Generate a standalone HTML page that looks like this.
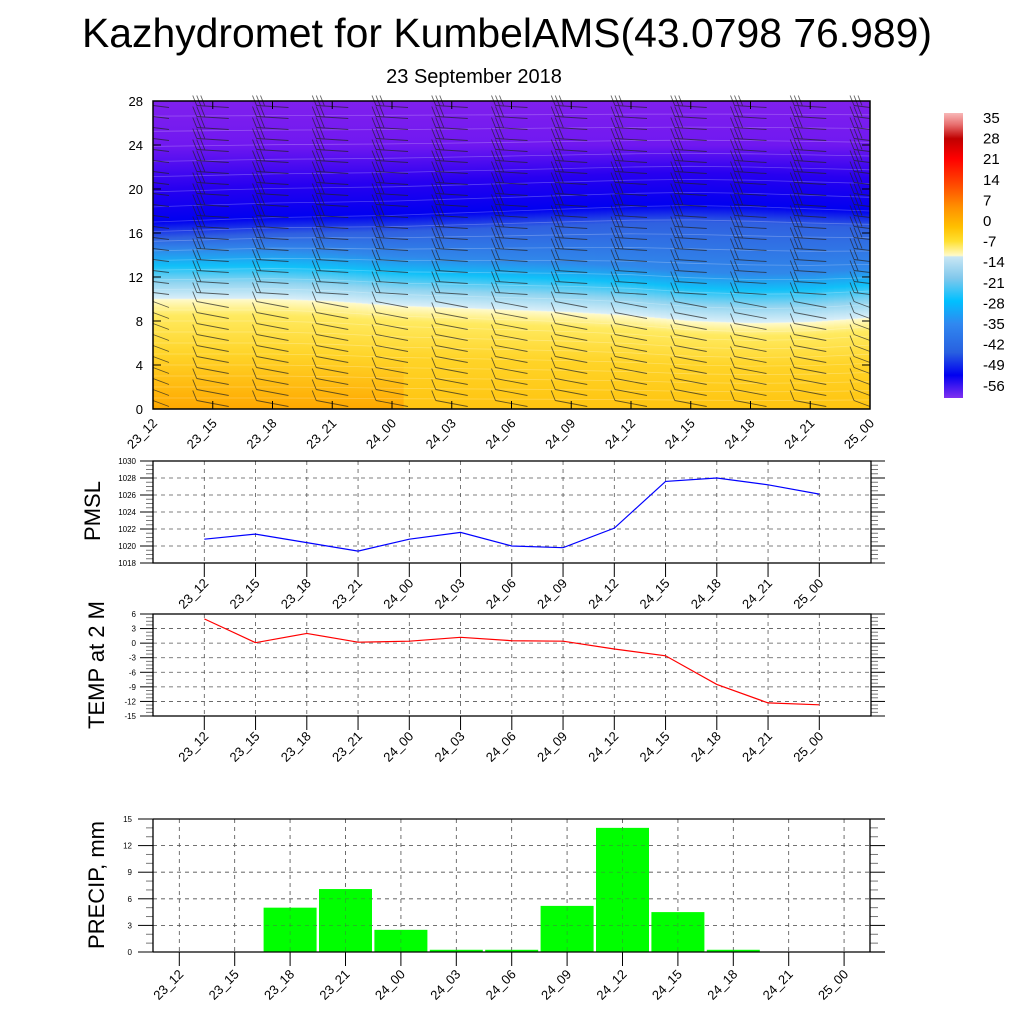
<!DOCTYPE html>
<html><head><meta charset="utf-8"><style>
html,body{margin:0;padding:0;background:#fff;}
svg{display:block;font-family:"Liberation Sans",sans-serif;}
</style></head><body>
<svg id="c" width="1024" height="1024" viewBox="0 0 1024 1024">
<text x="507" y="47" font-size="41" text-anchor="middle" textLength="850" lengthAdjust="spacingAndGlyphs">Kazhydromet for KumbelAMS(43.0798 76.989)</text>
<text x="474" y="83" font-size="20" text-anchor="middle">23 September 2018</text>
<text transform="translate(100,511) rotate(-90)" font-size="22" text-anchor="middle">PMSL</text>
<text transform="translate(104,665) rotate(-90)" font-size="22" text-anchor="middle">TEMP at 2 M</text>
<text transform="translate(104,885) rotate(-90)" font-size="22" text-anchor="middle">PRECIP, mm</text>
<g id="g"></g>
</svg>
<script>
const times=["23_12","23_15","23_18","23_21","24_00","24_03","24_06","24_09","24_12","24_15","24_18","24_21","25_00"];
const pmsl=[1020.8,1021.4,1020.4,1019.4,1020.8,1021.6,1020.0,1019.8,1022.1,1027.6,1028.0,1027.2,1026.1];
const temp2m=[5,0.1,2,0.2,0.4,1.2,0.5,0.4,-1.2,-2.6,-8.5,-12.3,-12.7];
const precip=[0,0.05,5,7.1,2.5,0.25,0.25,5.2,14,4.5,0.25,0.05,0];
const freezeLevel=[10,10,10,9.8,9.4,9.2,9.0,8.8,8.5,8.0,7.8,7.9,8.3];
const jetCore=[17,17.2,17.4,17.5,17.6,17.8,18,18.2,18.4,18.5,18.4,18.2,18];
const cbLabels=["35","28","21","14","7","0","-7","-14","-21","-28","-35","-42","-49","-56"];
const pmslTicks=[1018,1020,1022,1024,1026,1028,1030];
const tempTicks=[-15,-12,-9,-6,-3,0,3,6];
const precipTicks=[0,3,6,9,12,15];
const zTicks=[0,4,8,12,16,20,24,28];

const NS="http://www.w3.org/2000/svg";
const G=document.getElementById('g');
function el(t,a,p){const e=document.createElementNS(NS,t);for(const k in a)e.setAttribute(k,a[k]);(p||G).appendChild(e);return e;}
function txt(x,y,s,fs,anchor,rot,p){const e=el('text',{x:x,y:y,'font-size':fs,'text-anchor':anchor||'middle'},p);if(rot)e.setAttribute('transform',`rotate(${rot},${x},${y})`);e.textContent=s;return e;}

// ---------- contour panel ----------
const cx0=153,cx1=870,cy0=101,cy1=409;
const cX=i=>cx0+i*(cx1-cx0)/(times.length-1);
const cY=z=>cy1-z*(cy1-cy0)/28;
const defs=el('defs',{});
function interp(arr,f){const i=Math.min(arr.length-2,Math.floor(f));const t=f-i;return arr[i]*(1-t)+arr[i+1]*t;}
const nS=120;const sw=(cx1-cx0)/nS;
const contour=el('g',{});


for(let s=0;s<nS;s++){
  const f=(s+0.5)/nS*(times.length-1);
  const b=interp(freezeLevel,f), j=interp(jetCore,f);
  const id='sg'+s;
  const lg=el('linearGradient',{id:id,x1:0,y1:0,x2:0,y2:1,gradientUnits:'userSpaceOnUse'},defs);
  lg.setAttribute('y1',cy1);lg.setAttribute('y2',cy0);
  const hot=Math.max(0,1-f/6);
  const stops=[[0,hot>0.3?'#ffa800':'#ffc410'],[b*0.5,'#ffd428'],[b*0.85,'#ffea60'],[b-0.05,'#fffac8'],[b+0.05,'#d8eef8'],[b+1.5,'#90d4f0'],[b+3,'#10c0f8'],[b+4.5,'#3088ea'],[j-1.5,'#3060e0'],[j,'#0000f0'],[j+3,'#2800f0'],[24,'#7018f0'],[28,'#8020ee']];
  stops.forEach(([z,c])=>el('stop',{offset:Math.max(0,Math.min(1,z/28)),'stop-color':c},lg));
  el('rect',{x:cx0+s*sw-0.3,y:cy0,width:sw+0.6,height:cy1-cy0,fill:`url(#${id})`},contour);
}
for(let k=1;k<26;k++){
  let d='';
  for(let i=0;i<times.length;i++){
    const b=freezeLevel[i];
    const z=k<10?b*k/10:(k<18?b+(jetCore[i]-b)*(k-10)/8:jetCore[i]+(28-jetCore[i])*(k-18)/8);
    d+=(i?'L':'M')+cX(i).toFixed(1)+','+cY(z).toFixed(1);
  }
  el('path',{d:d,fill:'none',stroke:'#fff','stroke-opacity':0.25,'stroke-width':0.8},contour);
}
// wind barbs
const barbs=el('g',{stroke:'#222','stroke-opacity':0.7,'stroke-width':0.9,fill:'none'});


for(let i=0;i<times.length;i++){
  for(let z=0.5;z<28;z+=1){
    const x=cX(i),y=cY(z);
    const tilt=z<10?3:1;
    const x1=Math.max(cx0,x-16),x2=Math.min(cx1,x+16);
    el('line',{x1:x1,y1:y-tilt,x2:x2,y2:y+tilt},barbs);
    const nf=z<10?1:(z<14?2:3);
    for(let k=0;k<nf;k++){const bx=x-16+k*4;if(bx<cx0||bx>cx1)continue;el('line',{x1:bx,y1:y-tilt,x2:bx-4,y2:y-tilt-10},barbs);}
  }
}
el('rect',{x:cx0,y:cy0,width:cx1-cx0,height:cy1-cy0,fill:'none',stroke:'#000','stroke-width':1.5});
zTicks.forEach(z=>{txt(143,cY(z)+5,String(z),13,'end');el('line',{x1:cx0,y1:cY(z),x2:cx0+8,y2:cY(z),stroke:'#000'});el('line',{x1:cx1,y1:cY(z),x2:cx1-8,y2:cY(z),stroke:'#000'});});
times.forEach((t,i)=>{const x=cX(i);el('line',{x1:x,y1:cy1,x2:x,y2:cy1-8,stroke:'#000'});el('line',{x1:x,y1:cy0,x2:x,y2:cy0+8,stroke:'#000'});txt(x+5,cy1+15,t,13,'end',-45);});

// ---------- colorbar ----------
const cb=el('g',{});


const cbg=el('linearGradient',{id:'cbg',x1:0,y1:0,x2:0,y2:1},defs);
[[0,'#f8b8b8'],[0.04,'#e87070'],[0.09,'#c00000'],[0.16,'#ff0000'],[0.25,'#ff4800'],[0.33,'#ff9000'],[0.4,'#ffc000'],[0.45,'#ffe030'],[0.5,'#fffac8'],[0.505,'#c8e6f4'],[0.58,'#80c8ec'],[0.66,'#00c0ff'],[0.74,'#3088f0'],[0.84,'#2860e0'],[0.92,'#0000f0'],[1,'#8030f0']].forEach(([o,c])=>el('stop',{offset:o,'stop-color':c},cbg));
el('rect',{x:944,y:113,width:19,height:285,fill:'url(#cbg)'},cb);
cbLabels.forEach((l,k)=>txt(983,117+k*20.6+6,l,15,'start',0,cb));

// ---------- line panels ----------
const lx0=153,lx1=871;
const tX=i=>204.3+i*51.25;
function axesPanel(y0,y1,ticks,name){
  const lo=ticks[0],hi=ticks[ticks.length-1];
  const Y=v=>y1-(v-lo)*(y1-y0)/(hi-lo);
  const g=el('g',{});
  
  
  ticks.forEach(v=>{
    el('line',{x1:lx0,y1:Y(v),x2:lx1,y2:Y(v),stroke:'#555','stroke-dasharray':'4,4','stroke-width':0.8},g);
    txt(136,Y(v)+3,String(v),8,'end',0,g);
    el('line',{x1:140,y1:Y(v),x2:lx0,y2:Y(v),stroke:'#000'},g);
    el('line',{x1:lx1,y1:Y(v),x2:lx1+14,y2:Y(v),stroke:'#000'},g);
  });
  for(let k=0;k<ticks.length-1;k++)for(let m=1;m<4;m++){const yy=Y(ticks[k]+(ticks[k+1]-ticks[k])*m/4);el('line',{x1:146,y1:yy,x2:lx0,y2:yy,stroke:'#777'},g);el('line',{x1:lx1,y1:yy,x2:lx1+7,y2:yy,stroke:'#777'},g);}
  times.forEach((t,i)=>{const x=tX(i);el('line',{x1:x,y1:y0,x2:x,y2:y1,stroke:'#555','stroke-dasharray':'4,4','stroke-width':0.8},g);el('line',{x1:x,y1:y1,x2:x,y2:y1+14,stroke:'#000'},g);txt(x+5,y1+21,t,13,'end',-45,g);});
  el('rect',{x:lx0,y:y0,width:lx1-lx0,height:y1-y0,fill:'none',stroke:'#000','stroke-width':1.3},g);
  return Y;
}
const Yp=axesPanel(461,563,pmslTicks,'pmsl-panel');
const pl=el('polyline',{points:pmsl.map((v,i)=>tX(i)+','+Yp(v)).join(' '),fill:'none',stroke:'#0000ff','stroke-width':1.2});


const Yt=axesPanel(614,716,tempTicks,'temp-panel');
const tl=el('polyline',{points:temp2m.map((v,i)=>tX(i)+','+Yt(v)).join(' '),fill:'none',stroke:'#ff0000','stroke-width':1.2});



// ---------- precip panel ----------
const px0=153,px1=870,py0=819,py1=952;
const bX=i=>179.3+i*55.4;
const Yr=v=>py1-v*(py1-py0)/15;
const pg=el('g',{});


precipTicks.forEach(v=>{
  el('line',{x1:px0,y1:Yr(v),x2:px1,y2:Yr(v),stroke:'#555','stroke-dasharray':'4,4','stroke-width':0.8},pg);
  txt(132,Yr(v)+3,String(v),8,'end',0,pg);
  el('line',{x1:138,y1:Yr(v),x2:px0,y2:Yr(v),stroke:'#000'},pg);
  el('line',{x1:px1,y1:Yr(v),x2:px1+15,y2:Yr(v),stroke:'#000'},pg);
  if(v<15)for(let m=1;m<3;m++){const yy=Yr(v+m);el('line',{x1:146,y1:yy,x2:px0,y2:yy,stroke:'#777'},pg);el('line',{x1:px1,y1:yy,x2:px1+8,y2:yy,stroke:'#777'},pg);}
});
times.forEach((t,i)=>{const x=bX(i);el('line',{x1:x,y1:py0,x2:x,y2:py1,stroke:'#555','stroke-dasharray':'4,4','stroke-width':0.8},pg);});
precip.forEach((v,i)=>{
  const r=el('rect',{x:bX(i)-26.5,y:Yr(v),width:53,height:py1-Yr(v),fill:'#00ff00'},pg);
  
  
});
precipTicks.forEach(v=>el('line',{x1:px0,y1:Yr(v),x2:px1,y2:Yr(v),stroke:'#555','stroke-dasharray':'4,4','stroke-width':0.6,'stroke-opacity':0.6},pg));
times.forEach((t,i)=>{const x=bX(i);el('line',{x1:x,y1:py0,x2:x,y2:py1,stroke:'#555','stroke-dasharray':'4,4','stroke-width':0.6,'stroke-opacity':0.6},pg);el('line',{x1:x,y1:py1,x2:x,y2:py1+14,stroke:'#000'},pg);txt(x+5,py1+23,t,13,'end',-45,pg);});
el('line',{x1:px0,y1:py0,x2:px0,y2:py1,stroke:'#000','stroke-width':1.3},pg);
el('line',{x1:px1,y1:py0,x2:px1,y2:py1,stroke:'#000','stroke-width':1.3},pg);
el('line',{x1:px0,y1:py0,x2:px1+15,y2:py0,stroke:'#000','stroke-width':1.3},pg);
el('line',{x1:px0,y1:py1,x2:px1+15,y2:py1,stroke:'#000','stroke-width':1.3},pg);
</script>
</body></html>
